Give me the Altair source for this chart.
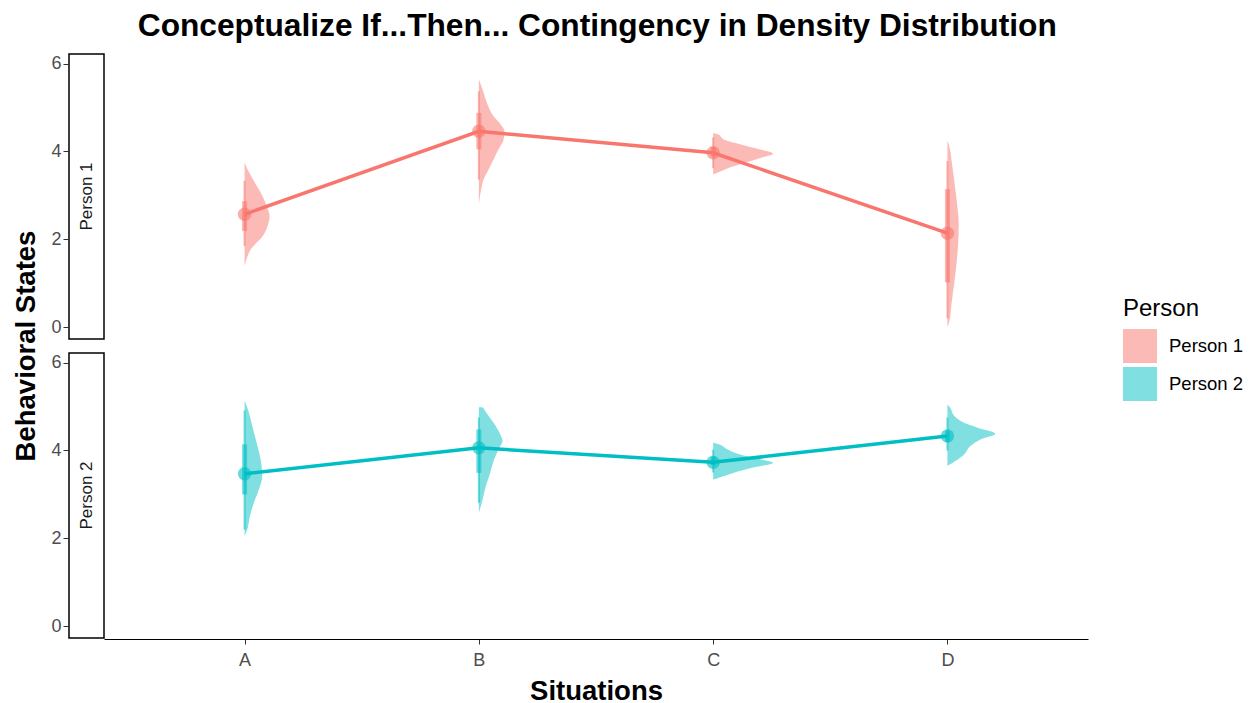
import altair as alt
import pandas as pd

situations = ["A", "B", "C", "D"]
persons = ["Person 1", "Person 2"]

# point estimates (mean behavioral state)
mean_p1 = [2.57, 4.46, 3.97, 2.14]
mean_p2 = [3.47, 4.06, 3.73, 4.33]

# interval ends (thick = inner interval, thin = outer interval)
thick_lo_p1 = [2.19, 4.05, 3.88, 1.02]
thick_hi_p1 = [2.87, 4.88, 4.10, 3.14]
thin_lo_p1 = [1.85, 3.36, 3.62, 0.20]
thin_hi_p1 = [3.33, 5.37, 4.32, 3.78]
thick_lo_p2 = [3.00, 3.49, 3.66, 4.20]
thick_hi_p2 = [4.14, 4.48, 3.86, 4.45]
thin_lo_p2 = [2.20, 2.81, 3.50, 4.00]
thin_hi_p2 = [4.91, 4.75, 4.02, 4.75]

# density profiles: behavioral state values and density heights
p1_A_y = [3.75, 3.59, 3.30, 2.98, 2.76, 2.53, 2.30, 2.07, 1.92, 1.77, 1.62, 1.39]
p1_A_d = [0.0, 0.03, 0.10, 0.18, 0.22, 0.25, 0.23, 0.18, 0.12, 0.06, 0.03, 0.0]
p1_B_y = [5.64, 5.41, 5.11, 4.80, 4.61, 4.46, 4.27, 4.05, 3.82, 3.59, 3.36, 3.14, 2.80]
p1_B_d = [0.0, 0.037, 0.08, 0.147, 0.22, 0.257, 0.247, 0.197, 0.147, 0.097, 0.047, 0.023, 0.0]
p1_C_y = [4.42, 4.39, 4.27, 4.16, 4.05, 3.95, 3.86, 3.74, 3.63, 3.52, 3.48]
p1_C_d = [0.0, 0.047, 0.11, 0.28, 0.46, 0.60, 0.48, 0.31, 0.16, 0.047, 0.0]
p1_D_y = [4.25, 4.16, 3.70, 3.25, 2.80, 2.34, 1.89, 1.43, 0.98, 0.52, 0.14, 0.0]
p1_D_d = [0.0, 0.013, 0.047, 0.073, 0.097, 0.113, 0.107, 0.09, 0.067, 0.04, 0.02, 0.0]
p2_A_y = [5.13, 4.94, 4.56, 4.18, 3.80, 3.42, 3.11, 2.81, 2.50, 2.20, 2.05]
p2_A_d = [0.0, 0.033, 0.077, 0.12, 0.16, 0.177, 0.143, 0.093, 0.053, 0.027, 0.0]
p2_B_y = [4.985, 4.98, 4.90, 4.63, 4.37, 4.22, 4.03, 3.76, 3.49, 3.19, 2.88, 2.58]
p2_B_d = [0.0, 0.04, 0.063, 0.147, 0.213, 0.237, 0.197, 0.147, 0.113, 0.07, 0.037, 0.0]
p2_C_y = [4.18, 4.14, 4.03, 3.91, 3.80, 3.72, 3.61, 3.49, 3.38, 3.34]
p2_C_d = [0.0, 0.057, 0.14, 0.27, 0.47, 0.60, 0.40, 0.20, 0.057, 0.0]
p2_D_y = [5.05, 4.98, 4.79, 4.63, 4.52, 4.38, 4.25, 4.10, 3.91, 3.76, 3.65]
p2_D_d = [0.0, 0.027, 0.067, 0.167, 0.30, 0.48, 0.33, 0.23, 0.167, 0.08, 0.0]

profiles = {
    ("Person 1", "A"): (p1_A_y, p1_A_d), ("Person 1", "B"): (p1_B_y, p1_B_d),
    ("Person 1", "C"): (p1_C_y, p1_C_d), ("Person 1", "D"): (p1_D_y, p1_D_d),
    ("Person 2", "A"): (p2_A_y, p2_A_d), ("Person 2", "B"): (p2_B_y, p2_B_d),
    ("Person 2", "C"): (p2_C_y, p2_C_d), ("Person 2", "D"): (p2_D_y, p2_D_d),
}
summary = {
    "Person 1": (mean_p1, thick_lo_p1, thick_hi_p1, thin_lo_p1, thin_hi_p1),
    "Person 2": (mean_p2, thick_lo_p2, thick_hi_p2, thin_lo_p2, thin_hi_p2),
}

rows = []
for person in persons:
    m, tl, th, nl, nh = summary[person]
    for i, s in enumerate(situations):
        pos = i + 1
        ys, ds = profiles[(person, s)]
        for y, d in zip(ys, ds):
            rows.append(dict(person=person, sit=s, grp=person + s, pos=pos, kind="dens",
                             value=y, dens=d))
        rows.append(dict(person=person, sit=s, grp=person + s, pos=pos, kind="sum", value=m[i],
                         lo=tl[i], hi=th[i], lo2=nl[i], hi2=nh[i]))
    rows.append(dict(person=person, sit="A", grp=person + "strip", pos=1, kind="strip", value=0))
df = pd.DataFrame(rows)

W, H = 984, 285
STRIP = 35
FONT = "Liberation Sans"
VIOLIN_SCALE = 100 / 234.5  # density units -> x units

color_scale = alt.Scale(domain=persons, range=["#F8766D", "#00BFC4"])
x_scale = alt.Scale(domain=[0.4, 4.6], nice=False, zero=False)
y_scale = alt.Scale(domain=[-0.27, 6.22], nice=False, zero=False)

label_expr = "[" + ",".join("'%s'" % s for s in situations) + "][datum.value - 1]"
x_axis = alt.Axis(values=[1, 2, 3, 4], labelExpr=label_expr, title="Situations", grid=False,
                  domainColor="black", domainWidth=1.2, tickColor="#333333", tickSize=5,
                  labelColor="#4D4D4D", labelFontSize=18, labelFont=FONT, labelPadding=7,
                  titleFont=FONT, titleFontSize=27.5, titleFontWeight="bold", titleColor="black",
                  titlePadding=8)
y_axis = alt.Axis(values=[0, 2, 4, 6], title=None, grid=False, domain=False,
                  tickColor="#333333", tickSize=5, labelColor="#4D4D4D",
                  labelFontSize=18, labelFont=FONT, labelPadding=2, minExtent=0)

X = alt.X("pos:Q", scale=x_scale, axis=x_axis)
Y = alt.Y("value:Q", scale=y_scale, axis=y_axis)

base = alt.Chart()

violin = base.transform_filter(alt.datum.kind == "dens").transform_calculate(
    xr="datum.pos + datum.dens * %f" % VIOLIN_SCALE
).mark_area(orient="horizontal", opacity=0.5, interpolate="monotone").encode(
    y=Y,
    x=alt.X("pos:Q", scale=x_scale, axis=x_axis, stack=None),
    x2=alt.X2("xr:Q"),
    color=alt.Color("person:N", scale=color_scale,
                    legend=alt.Legend(title="Person", symbolType="square", symbolSize=1156,
                                      symbolOpacity=0.5, symbolStrokeWidth=0,
                                      titleFont=FONT, titleFontSize=24, titleFontWeight="normal",
                                      titleColor="black", labelFont=FONT, labelFontSize=18.5,
                                      labelColor="black", orient="none", legendX=1019,
                                      legendY=243, rowPadding=4, labelOffset=12,
                                      titlePadding=8)),
    detail="grp:N",
)

summ = base.transform_filter(alt.datum.kind == "sum")
cnone = alt.Color("person:N", scale=color_scale, legend=None)

thin = summ.mark_rule(strokeWidth=2, opacity=0.55).encode(
    x=X, y=alt.Y("lo2:Q", scale=y_scale), y2="hi2:Q", color=cnone)
thick = summ.mark_rule(strokeWidth=5, opacity=0.55).encode(
    x=X, y=alt.Y("lo:Q", scale=y_scale), y2="hi:Q", color=cnone)
line = summ.mark_line(strokeWidth=3.5).encode(x=X, y=Y, color=cnone, order=alt.Order("pos:Q"))
pts = summ.mark_circle(size=180, opacity=0.6).encode(x=X, y=Y, color=cnone)

strips = base.transform_filter(alt.datum.kind == "strip")
strip_box = strips.mark_rect(fill="white", stroke="black", strokeWidth=1.5).encode(
    x=alt.value(-STRIP), x2=alt.value(0), y=alt.value(0), y2=alt.value(H))
strip_text = strips.mark_text(angle=270, font=FONT, fontSize=17, color="#1A1A1A").encode(
    x=alt.value(-STRIP / 2), y=alt.value(H / 2), text="person:N")

layered = alt.layer(violin, thin, thick, line, pts, strip_box, strip_text, data=df).properties(
    width=W, height=H, view=alt.ViewBackground(strokeWidth=0))

chart = layered.facet(
    row=alt.Row("person:N", sort=persons, title="Behavioral States",
                header=alt.Header(labels=False, labelPadding=0, titleFont=FONT, titleFontSize=27.5,
                                  titleFontWeight="bold", titleColor="black", titlePadding=0)),
    spacing=12,
).properties(
    title=alt.TitleParams("Conceptualize If...Then... Contingency in Density Distribution",
                          font=FONT, fontSize=31.7, fontWeight="bold", color="black",
                          anchor="middle", offset=11, dx=-31),
    padding={"left": 4, "top": 2, "right": 0, "bottom": 0},
    background="white",
).configure_view(strokeWidth=0, stroke="transparent")

chart.save("out.html", embed_options={"renderer": "svg", "actions": False})
